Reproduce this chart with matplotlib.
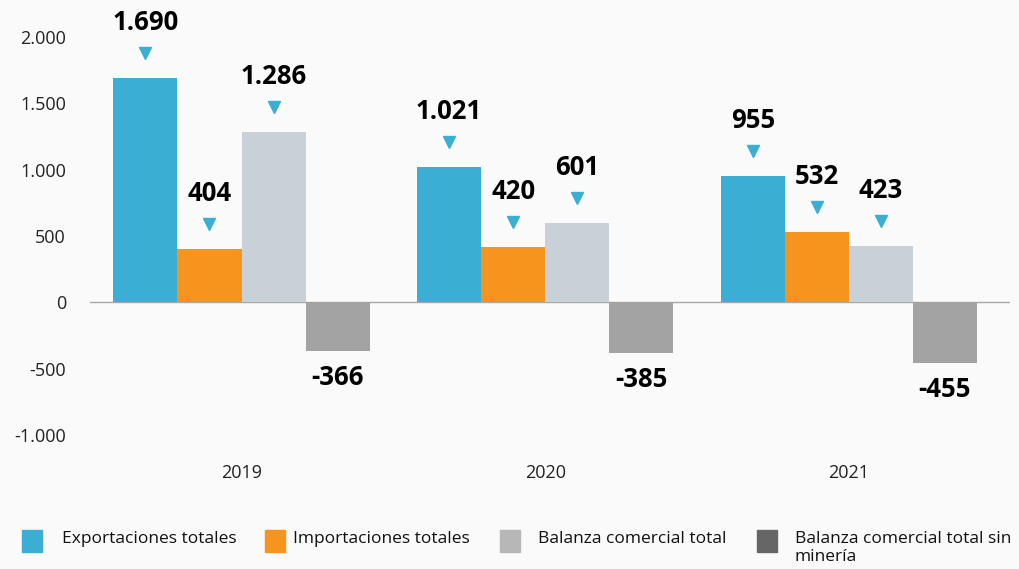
import matplotlib.pyplot as plt
from matplotlib.patches import Rectangle
from matplotlib.transforms import ScaledTranslation
import numpy as np

years = ['2019', '2020', '2021']
series = ['Exportaciones totales', 'Importaciones totales',
          'Balanza comercial total', 'Balanza comercial total sin\nminería']
exportaciones = [1690, 1021, 955]
importaciones = [404, 420, 532]
balanza = [1286, 601, 423]
balanza_sin_mineria = [-366, -385, -455]

bar_colors = ['#3aaed3', '#f7941d', '#c9d1d8', '#a3a3a3']
legend_colors = ['#3aaed3', '#f7941d', '#b7b7b7', '#666666']
marker_color = '#3aaed3'
bg = '#fafafa'


def fmt(v):
    return f'{v:,}'.replace(',', '.')


plt.rcParams['font.family'] = ['Open Sans', 'DejaVu Sans']

fig = plt.figure(figsize=(10.19, 5.69), dpi=100, facecolor=bg)
ax = fig.add_axes([0.088, 1 - 435 / 569, 0.903, (435 - 37) / 569])
ax.set_facecolor(bg)

x = np.arange(len(years))
width = 0.211
all_values = [exportaciones, importaciones, balanza, balanza_sin_mineria]

# triangles sit a fixed distance above the bar top
marker_shift = ax.transData + ScaledTranslation(0, 25 / 100, fig.dpi_scale_trans)

for i, vals in enumerate(all_values):
    pos = x + (i - 1.5) * width
    ax.bar(pos, vals, width=width, color=bar_colors[i], zorder=2)
    for px, v in zip(pos, vals):
        if v >= 0:
            ax.plot(px, v, marker='v', color=marker_color, markersize=9,
                    linestyle='none', transform=marker_shift, zorder=3, clip_on=False)
            ax.annotate(fmt(v), xy=(px, v), xytext=(0, 40), textcoords='offset points',
                        ha='center', va='center', fontsize=18.5, fontweight='bold',
                        color='black', annotation_clip=False)
        else:
            ax.annotate(fmt(v), xy=(px, v), xytext=(0, -19), textcoords='offset points',
                        ha='center', va='center', fontsize=18.5, fontweight='bold',
                        color='black', annotation_clip=False)

ax.axhline(0, color='#a8a8a8', linewidth=1.0, zorder=1)
ax.set_xlim(-0.5, 2.53)
ax.set_ylim(-1000, 2000)
yticks = [-1000, -500, 0, 500, 1000, 1500, 2000]
ax.set_yticks(yticks)
ax.set_yticklabels([fmt(t) for t in yticks], fontsize=13, color='#222222')
ax.set_xticks(x)
ax.set_xticklabels(years, fontsize=13, color='#222222')
ax.tick_params(axis='both', length=0)
ax.tick_params(axis='y', pad=17)
ax.tick_params(axis='x', pad=21)
for s in ax.spines.values():
    s.set_visible(False)

# legend drawn by hand so the wrapped label keeps its square on the first line
leg_x = [22, 265, 500, 757]
txt_x = [62, 293, 538, 795]
for i in range(4):
    fig.patches.append(Rectangle((leg_x[i] / 1019, 1 - 552 / 569), 20 / 1019, 22 / 569,
                                 transform=fig.transFigure, color=legend_colors[i]))
    fig.text(txt_x[i] / 1019, 1 - 531 / 569, series[i], fontsize=12.5, color='#111111',
             ha='left', va='top', linespacing=1.2)

fig.savefig('out.png', dpi=100, facecolor=bg)
